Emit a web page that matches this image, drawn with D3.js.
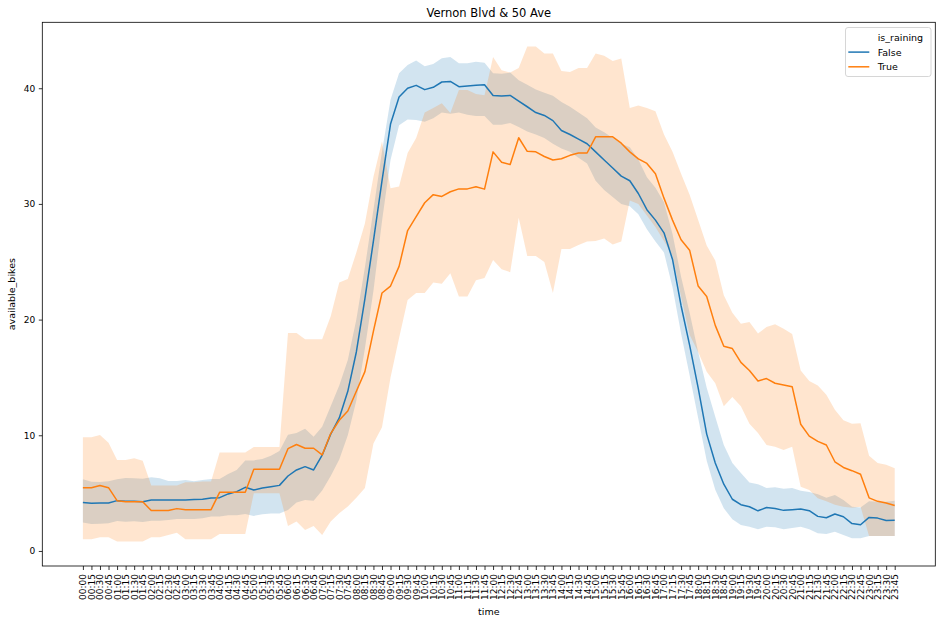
<!DOCTYPE html>
<html>
<head>
<meta charset="utf-8">
<script src="https://cdn.jsdelivr.net/npm/d3@7"></script>
<style>
  html, body { margin: 0; padding: 0; background: #fff; }
  svg { display: block; }
  text { font-family: "DejaVu Sans", sans-serif; fill: #000; }
</style>
</head>
<body>
<svg id="chart" width="941" height="623"></svg>
<script>
// ---------- data ----------
const times = ["00:00","00:15","00:30","00:45","01:00","01:15","01:30","01:45","02:00","02:15","02:30","02:45",
"03:00","03:15","03:30","03:45","04:00","04:15","04:30","04:45","05:00","05:15","05:30","05:45",
"06:00","06:15","06:30","06:45","07:00","07:15","07:30","07:45","08:00","08:15","08:30","08:45",
"09:00","09:15","09:30","09:45","10:00","10:15","10:30","10:45","11:00","11:15","11:30","11:45",
"12:00","12:15","12:30","12:45","13:00","13:15","13:30","13:45","14:00","14:15","14:30","14:45",
"15:00","15:15","15:30","15:45","16:00","16:15","16:30","16:45","17:00","17:15","17:30","17:45",
"18:00","18:15","18:30","18:45","19:00","19:15","19:30","19:45","20:00","20:15","20:30","20:45",
"21:00","21:15","21:30","21:45","22:00","22:15","22:30","22:45","23:00","23:15","23:30","23:45"];

const yTicks = [0, 10, 20, 30, 40];
const seriesNames = ["False", "True"];

// is_raining = False (mean, CI high, CI low)
const falseMean = [4.18,4.12,4.15,4.15,4.35,4.29,4.29,4.26,4.41,4.41,4.41,4.41,
4.41,4.44,4.47,4.58,4.61,4.93,5.13,5.50,5.27,5.44,5.56,5.67,
6.48,7.00,7.29,7.00,8.28,10.1,11.5,13.8,17.2,21.8,26.8,32.0,
36.9,39.25,40.0,40.25,39.88,40.08,40.54,40.59,40.13,40.19,40.25,40.30,
39.38,39.33,39.38,38.88,38.4,37.9,37.65,37.2,36.35,36.0,35.6,35.2,
34.5,33.8,33.1,32.4,32.0,30.9,29.5,28.6,27.5,25.2,21.2,17.8,
14.1,10.1,7.6,5.77,4.47,4.0,3.82,3.47,3.76,3.67,3.51,3.57,
3.63,3.48,2.99,2.87,3.2,2.96,2.37,2.27,2.9,2.84,2.63,2.66];
const falseHi = [6.19,5.99,5.97,6.02,6.19,6.31,6.28,6.25,6.37,6.28,6.05,6.05,
6.13,6.02,6.13,6.22,6.22,6.65,7.00,7.83,7.83,7.95,8.24,8.64,
10.05,10.2,10.57,9.88,10.74,12.5,14.3,16.5,20.0,24.5,29.5,34.5,
39.0,41.3,42.0,42.4,41.9,42.1,42.6,42.7,42.15,42.15,42.3,42.2,
41.3,41.25,41.35,40.7,40.3,39.9,39.6,39.35,38.8,38.4,37.9,37.4,
36.6,36.2,35.7,35.2,34.9,33.85,32.3,31.4,30.15,27.4,23.7,20.6,
17.2,14.1,11.6,9.16,7.6,6.75,5.92,5.77,5.45,5.5,5.37,5.45,
5.21,5.09,4.9,4.6,4.84,4.41,3.83,3.75,4.3,4.25,4.25,4.35];
const falseLo = [2.45,2.33,2.36,2.39,2.59,2.53,2.56,2.5,2.62,2.62,2.68,2.77,
2.77,2.77,2.82,2.97,2.97,3.08,3.08,3.2,3.03,3.17,3.23,3.23,
3.55,4.18,4.41,4.35,5.22,6.49,7.9,10.0,13.0,17.5,22.5,28.5,
33.8,36.8,37.3,37.25,37.1,37.4,37.9,37.8,37.9,37.7,37.6,37.6,
36.85,36.85,37.0,36.65,36.25,36.0,35.7,35.2,34.8,34.5,34.0,33.5,
32.0,31.2,30.6,30.0,29.8,29.1,27.8,26.75,25.8,22.8,18.8,15.2,
11.5,7.8,5.3,3.69,2.74,2.25,2.1,1.87,2.1,2.05,1.87,1.98,
2.1,1.87,1.53,1.47,1.67,1.38,1.09,1.09,1.3,1.3,1.3,1.3];

// is_raining = True (mean, CI high, CI low)
const trueMean = [5.47,5.47,5.65,5.47,4.35,4.26,4.26,4.26,3.49,3.49,3.49,3.66,
3.57,3.57,3.57,3.57,5.07,5.07,5.07,5.07,7.06,7.06,7.06,7.06,
8.84,9.2,8.88,8.88,8.3,10.15,11.3,12.1,13.8,15.5,19.0,22.3,
22.9,24.6,27.7,28.9,30.1,30.8,30.65,31.05,31.3,31.3,31.48,31.28,
34.5,33.6,33.4,35.72,34.55,34.5,34.1,33.8,33.9,34.2,34.4,34.4,
35.8,35.8,35.8,35.25,34.5,33.9,33.5,32.6,30.5,28.6,26.9,26.0,
22.9,22.0,19.5,17.7,17.5,16.3,15.6,14.7,14.9,14.5,14.35,14.2,
10.95,9.93,9.47,9.16,7.71,7.22,6.94,6.63,4.59,4.29,4.15,3.93];
const trueHi = [9.83,9.83,10.03,9.36,7.86,7.86,8.01,7.80,5.65,5.65,5.65,5.65,
5.95,5.95,6.0,6.0,8.52,8.52,8.52,8.52,8.99,8.99,8.99,8.99,
18.85,18.85,18.3,18.3,18.3,20.3,23.2,23.5,25.8,28.3,32.35,35.4,
31.35,31.5,34.4,35.7,37.9,38.3,38.7,37.85,39.85,39.85,39.5,39.4,
42.7,41.55,41.35,41.75,43.6,43.6,43.0,43.0,41.5,41.4,41.75,41.75,
43.0,42.8,42.35,42.56,38.3,38.5,38.3,38.0,36.0,34.5,32.6,30.8,
28.6,26.4,25.1,22.1,20.6,19.65,19.8,18.8,19.35,19.6,19.2,18.75,
15.6,14.7,14.3,13.5,12.2,11.3,11.0,11.05,8.24,7.6,7.45,7.15];
const trueLo = [1.01,1.01,1.18,1.18,0.81,0.81,0.81,0.81,1.18,1.18,1.38,1.58,
1.01,1.01,1.01,1.01,1.47,1.47,1.47,1.47,4.98,4.98,4.98,4.98,
2.16,2.54,1.81,2.16,1.38,2.54,3.26,3.85,4.6,5.45,9.3,10.7,
15.0,18.4,21.7,22.3,22.3,23.2,23.1,24.0,22.0,22.0,23.4,23.6,
25.15,24.35,24.1,28.8,25.5,25.5,24.97,22.3,26.1,26.1,26.45,26.75,
26.8,27.0,26.5,26.75,30.3,30.0,29.0,28.0,26.8,25.5,22.0,18.7,
17.2,15.5,14.5,12.5,13.3,12.5,11.0,10.2,9.16,9.0,8.73,9.0,
5.56,5.27,4.55,4.3,4.0,3.83,3.74,3.83,1.3,1.3,1.3,1.3];

const colors = ["#1f77b4", "#ff7f0e"];

// ---------- layout ----------
const svg = d3.select("#chart");
const L = 42.3, R = 935.3, T = 22.3, B = 566;
const n = times.length;
const pad = (n - 1) * 0.05;

const x = d3.scaleLinear().domain([-pad, n - 1 + pad]).range([L, R]);
const y = d3.scaleLinear().domain([-1.3, 45.7]).range([B, T]);

const series = [
  { name: seriesNames[0], mean: falseMean, hi: falseHi, lo: falseLo, color: colors[0] },
  { name: seriesNames[1], mean: trueMean, hi: trueHi, lo: trueLo, color: colors[1] }
];

const clipId = "plotclip";
svg.append("defs").append("clipPath").attr("id", clipId)
  .append("rect").attr("x", L).attr("y", T).attr("width", R - L).attr("height", B - T);

const plot = svg.append("g").attr("clip-path", `url(#${clipId})`);

const area = d3.area()
  .x((d, i) => x(i))
  .y0(d => y(d[0]))
  .y1(d => y(d[1]));

const line = d3.line()
  .x((d, i) => x(i))
  .y(d => y(d));

series.forEach(s => {
  const band = s.lo.map((v, i) => [v, s.hi[i]]);
  plot.append("path")
    .attr("d", area(band))
    .attr("fill", s.color)
    .attr("fill-opacity", 0.2)
    .attr("stroke", "none");
});
series.forEach(s => {
  plot.append("path")
    .attr("d", line(s.mean))
    .attr("fill", "none")
    .attr("stroke", s.color)
    .attr("stroke-width", 1.5)
    .attr("stroke-linejoin", "round")
    .attr("stroke-linecap", "butt");
});

// ---------- axes ----------
const xAxis = d3.axisBottom(x)
  .tickValues(d3.range(n))
  .tickFormat(i => times[i])
  .tickSize(4)
  .tickSizeOuter(0);
const gx = svg.append("g").attr("transform", `translate(0,${B})`).call(xAxis);
gx.select(".domain").remove();
gx.selectAll(".tick line").attr("stroke", "#000").attr("stroke-width", 0.8);
gx.selectAll(".tick text")
  .attr("font-family", "DejaVu Sans, sans-serif")
  .attr("font-size", 9)
  .attr("fill", "#000")
  .attr("y", 0).attr("dy", null)
  .attr("text-anchor", "end")
  .attr("dominant-baseline", "central")
  .attr("transform", "translate(0,8) rotate(-90)");

const yAxis = d3.axisLeft(y).tickValues(yTicks).tickSize(3.5).tickPadding(3.5).tickSizeOuter(0);
const gy = svg.append("g").attr("transform", `translate(${L},0)`).call(yAxis);
gy.select(".domain").remove();
gy.selectAll(".tick line").attr("stroke", "#000").attr("stroke-width", 0.8);
gy.selectAll(".tick text")
  .attr("font-family", "DejaVu Sans, sans-serif")
  .attr("font-size", 9)
  .attr("fill", "#000");

// frame
svg.append("rect")
  .attr("x", L).attr("y", T).attr("width", R - L).attr("height", B - T)
  .attr("fill", "none").attr("stroke", "#000").attr("stroke-width", 0.8);

// labels
svg.append("text").attr("x", (L + R) / 2).attr("y", 17)
  .attr("text-anchor", "middle").attr("font-size", 11.5).text("Vernon Blvd & 50 Ave");
svg.append("text").attr("x", (L + R) / 2).attr("y", 614.5)
  .attr("text-anchor", "middle").attr("font-size", 9.5).text("time");
svg.append("text")
  .attr("transform", `translate(15,${(T + B) / 2}) rotate(-90)`)
  .attr("text-anchor", "middle").attr("font-size", 9.5).text("available_bikes");

// legend
const lg = svg.append("g");
lg.append("rect")
  .attr("x", 845.5).attr("y", 27.5).attr("width", 85.5).attr("height", 49)
  .attr("rx", 2.5).attr("fill", "#fff").attr("fill-opacity", 0.8)
  .attr("stroke", "#cccccc").attr("stroke-width", 0.8);
lg.append("text").attr("x", 877.7).attr("y", 37.1).attr("dominant-baseline", "central")
  .attr("font-size", 9.5).text("is_raining");
series.forEach((s, k) => {
  const cy = 52.1 + k * 14.7;
  lg.append("line").attr("x1", 848.3).attr("x2", 869.3).attr("y1", cy).attr("y2", cy)
    .attr("stroke", s.color).attr("stroke-width", 1.5);
  lg.append("text").attr("x", 877.7).attr("y", cy).attr("dominant-baseline", "central")
    .attr("font-size", 9.5).text(s.name);
});
</script>
</body>
</html>
